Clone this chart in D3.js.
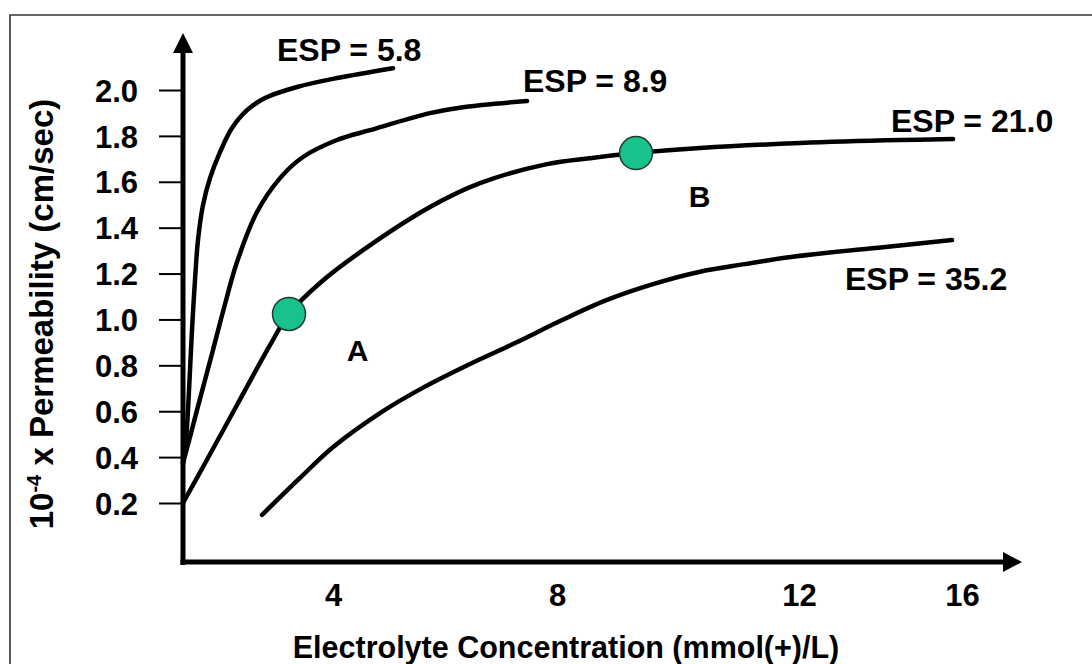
<!DOCTYPE html>
<html>
<head>
<meta charset="utf-8">
<script src="https://cdn.jsdelivr.net/npm/d3@7"></script>
<style>
  html, body { margin: 0; padding: 0; background: #fff; }
  svg { display: block; }
  text { font-family: "Liberation Sans", Arial, sans-serif; font-weight: bold; fill: #000; }
</style>
</head>
<body>
<svg id="chart" width="1092" height="664"></svg>
<script>
// ---------- data ----------
const xTicks = [4, 8, 12, 16];
const yTicks = [0.2, 0.4, 0.6, 0.8, 1.0, 1.2, 1.4, 1.6, 1.8, 2.0];
const seriesNames = ["ESP = 5.8", "ESP = 8.9", "ESP = 21.0", "ESP = 35.2"];

const esp58 = [[0, 0.374], [0.08, 0.475], [0.133, 0.605], [0.187, 0.78], [0.24, 0.954], [0.32, 1.172],
  [0.4, 1.346], [0.533, 1.498], [0.72, 1.616], [0.987, 1.729], [1.307, 1.834], [1.707, 1.912],
  [2.187, 1.965], [3.04, 2.013], [4.071, 2.052], [5.071, 2.095]];
const esp89 = [[0, 0.374], [0.187, 0.488], [0.373, 0.605], [0.587, 0.736], [0.8, 0.867], [1.093, 1.05],
  [1.44, 1.25], [1.973, 1.468], [2.587, 1.616], [3.2, 1.708], [4.071, 1.782], [4.661, 1.825],
  [5.732, 1.899], [6.32, 1.925], [7.464, 1.952]];
const esp210 = [[0, 0.2], [0.533, 0.357], [1.44, 0.627], [2.32, 0.888], [2.827, 1.024], [3.653, 1.159],
  [4.536, 1.302], [5.732, 1.49], [6.625, 1.594], [7.821, 1.677], [8.545, 1.703], [9.306, 1.725],
  [10.364, 1.747], [12.025, 1.769], [14.479, 1.782], [15.779, 1.786]];
const esp352 = [[2.107, 0.148], [3.12, 0.309], [3.973, 0.44], [4.839, 0.592], [5.625, 0.705], [6.446, 0.806],
  [7.25, 0.897], [8.05, 0.993], [8.826, 1.085], [9.587, 1.154], [10.347, 1.207], [11.107, 1.241],
  [11.868, 1.272], [14.061, 1.315], [15.755, 1.346]];

const markerLabels = ["A", "B"];
const markerX = [2.827, 9.306];
const markerY = [1.024, 1.725];

// ---------- layout ----------
const svg = d3.select("#chart");
const X_DOMAIN = [0, 4, 8, 12, 16];
const X_RANGE = [183, 333, 557, 799, 962];
const x = d3.scaleLinear().domain(X_DOMAIN).range(X_RANGE);
const y = d3.scaleLinear().domain([0.2, 2.0]).range([503, 90]);
const axisX0 = 183, axisY0 = 562;

// frame (only top and left edges visible)
svg.append("path").attr("d", "M10,664 L10,15 L1092,15")
  .attr("fill", "none").attr("stroke", "#333").attr("stroke-width", 1.6);

// y axis
const gy = svg.append("g").attr("transform", `translate(${axisX0},0)`)
  .call(d3.axisLeft(y).tickValues(yTicks).tickSize(24).tickPadding(21).tickFormat(d3.format(".1f")));
gy.select(".domain").remove();
gy.selectAll(".tick line").attr("stroke", "#000").attr("stroke-width", 2);
gy.selectAll(".tick text").attr("font-size", 31).attr("font-family", null).attr("fill", "#000").attr("dy", "0.36em");

// x axis
const gx = svg.append("g").attr("transform", `translate(0,${axisY0})`)
  .call(d3.axisBottom(x).tickValues(xTicks).tickSize(0).tickFormat(d3.format("d")));
gx.select(".domain").remove();
gx.selectAll(".tick text").attr("font-size", 31).attr("font-family", null).attr("fill", "#000")
  .attr("dy", null).attr("y", 44);

// axis lines with arrows
svg.append("line").attr("x1", axisX0).attr("y1", axisY0 + 3).attr("x2", axisX0).attr("y2", 50)
  .attr("stroke", "#000").attr("stroke-width", 5);
svg.append("path").attr("d", `M${axisX0},33 L${axisX0 - 10},53 L${axisX0 + 10},53 Z`).attr("fill", "#000");
svg.append("line").attr("x1", axisX0 - 2.5).attr("y1", axisY0).attr("x2", 1008).attr("y2", axisY0)
  .attr("stroke", "#000").attr("stroke-width", 5);
svg.append("path").attr("d", `M1022,${axisY0} L1003,${axisY0 - 10} L1003,${axisY0 + 10} Z`).attr("fill", "#000");

// curves
const line = d3.line().x(d => x(d[0])).y(d => y(d[1])).curve(d3.curveCatmullRom.alpha(0.5));
[esp58, esp89, esp210, esp352].forEach(s => {
  svg.append("path").datum(s).attr("d", line)
    .attr("fill", "none").attr("stroke", "#000").attr("stroke-width", 4.5)
    .attr("stroke-linecap", "round").attr("stroke-linejoin", "round");
});

// series labels (anchored in data units)
const seriesLabelPos = [[2.507, 2.126], [7.393, 1.991], [14.258, 1.817], [13.129, 1.128]];
seriesNames.forEach((n, i) => {
  svg.append("text").attr("x", x(seriesLabelPos[i][0])).attr("y", y(seriesLabelPos[i][1]))
    .attr("font-size", 32).text(n);
});

// markers
markerX.forEach((mx, i) => {
  svg.append("circle").attr("cx", x(mx)).attr("cy", y(markerY[i])).attr("r", 16.5)
    .attr("fill", "#18c28c").attr("stroke", "#1d3b2e").attr("stroke-width", 1.5);
});
const markerLabelPos = [[4.437, 0.819], [10.355, 1.49]];
markerLabels.forEach((m, i) => {
  svg.append("text").attr("x", x(markerLabelPos[i][0])).attr("y", y(markerLabelPos[i][1]))
    .attr("text-anchor", "middle").attr("font-size", 30).text(m);
});

// axis titles
svg.append("text").attr("x", 566).attr("y", 658).attr("text-anchor", "middle")
  .attr("font-size", 30.5).text("Electrolyte Concentration (mmol(+)/L)");
const yt = svg.append("text").attr("transform", "translate(53,314) rotate(-90)")
  .attr("text-anchor", "middle").attr("font-size", 33);
yt.append("tspan").text("10");
yt.append("tspan").attr("font-size", 20).attr("dy", -12).text("-4");
yt.append("tspan").attr("dy", 12).text(" x Permeability (cm/sec)");
</script>
</body>
</html>
